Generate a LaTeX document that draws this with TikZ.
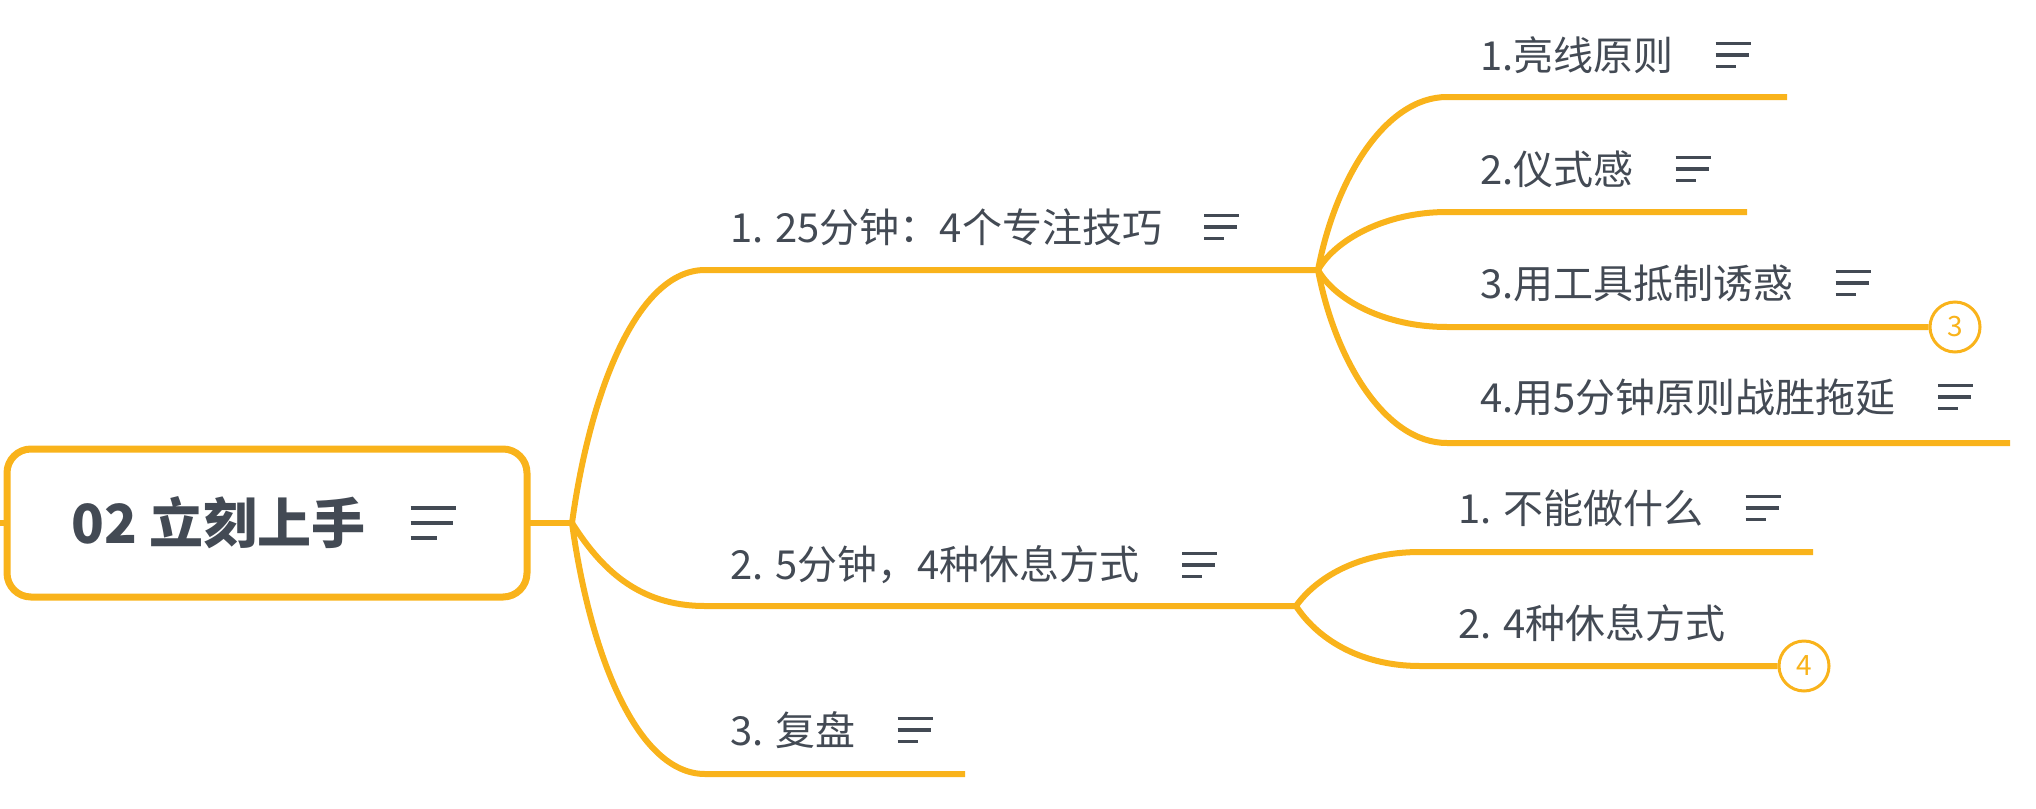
\documentclass[tikz,border=0pt]{standalone}
\usepackage{fontspec}
\setmainfont{Noto Sans CJK SC}
\usepackage{tikz}
\definecolor{branchyellow}{RGB}{249,179,27}
\definecolor{labelgray}{RGB}{67,74,84}

\begin{document}
\begin{tikzpicture}[x=1pt,y=-1pt,
  branchline/.style={draw=branchyellow,line width=6pt},
  itemtext/.style={anchor=west,inner sep=0pt,text=labelgray,font=\fontsize{40}{48}\selectfont},
  rootbox/.style={draw=branchyellow,line width=7pt,rounded corners=24pt,fill=white,minimum width=520pt,minimum height=148pt},
  numbadge/.style={circle,draw=branchyellow,line width=3pt,fill=white,minimum size=50pt,inner sep=0pt,text=branchyellow,font=\fontsize{28}{32}\selectfont},
  noteicon/.pic={\draw[labelgray,line width=3.5pt] (0,-11.5) -- (35,-11.5) (0,0) -- (33,0) (0,11.5) -- (20,11.5);}]
\useasboundingbox (0,0) rectangle (2036,808);

\coordinate (stub) at (0,523);
\coordinate (hub) at (572,523);
\coordinate (t1s) at (705,270);
\coordinate (t1e) at (1318,270);
\coordinate (t2s) at (705,606);
\coordinate (t2e) at (1296,606);
\coordinate (t3s) at (705,774);
\coordinate (t3e) at (965,774);
\coordinate (s1s) at (1447,97);
\coordinate (s1e) at (1787,97);
\coordinate (s2s) at (1447,212);
\coordinate (s2e) at (1747,212);
\coordinate (s3s) at (1447,327);
\coordinate (s4s) at (1447,443);
\coordinate (s4e) at (2010,443);
\coordinate (r1s) at (1420,552);
\coordinate (r1e) at (1813,552);
\coordinate (r2s) at (1420,666);

\draw[branchline] (stub) -- (hub);
\node[rootbox] (root) at (267,523) {};
\node[itemtext,font=\bfseries\fontsize{54}{64}\selectfont] (rootlabel) at (71,523) {02 立刻上手};
\pic[scale=1.3] at ([xshift=45pt]rootlabel.east) {noteicon};

\draw[branchline] (hub) .. controls +(18,-131) and +(-68,0) .. (t1s) -- (t1e);
\draw[branchline] (hub) .. controls +(28,44) and +(-68,0) .. (t2s) -- (t2e);
\draw[branchline] (hub) .. controls +(18,131) and +(-68,0) .. (t3s) -- (t3e);

\node[itemtext] (topic1) at (730,227) {1. 25分钟：4个专注技巧};
\pic at ([xshift=42pt]topic1.east) {noteicon};
\node[itemtext] (topic2) at (730,565) {2. 5分钟，4种休息方式};
\pic at ([xshift=42pt]topic2.east) {noteicon};
\node[itemtext] (topic3) at (730,730) {3. 复盘};
\pic at ([xshift=42pt]topic3.east) {noteicon};

\node[numbadge] (badge3) at (1955,327) {3};
\node[numbadge] (badge4) at (1804,666) {4};

\draw[branchline] (t1e) .. controls +(17,-90) and +(-62,0) .. (s1s) -- (s1e);
\draw[branchline] (t1e) .. controls +(17,-30) and +(-62,0) .. (s2s) -- (s2e);
\draw[branchline] (t1e) .. controls +(17,30) and +(-62,0) .. (s3s) -- (badge3.west);
\draw[branchline] (t1e) .. controls +(17,90) and +(-62,0) .. (s4s) -- (s4e);
\draw[branchline] (t2e) .. controls +(20,-28) and +(-62,0) .. (r1s) -- (r1e);
\draw[branchline] (t2e) .. controls +(20,31) and +(-62,0) .. (r2s) -- (badge4.west);

\node[itemtext] (sub1) at (1480,55) {1.亮线原则};
\pic at ([xshift=42pt]sub1.east) {noteicon};
\node[itemtext] (sub2) at (1480,169) {2.仪式感};
\pic at ([xshift=42pt]sub2.east) {noteicon};
\node[itemtext] (sub3) at (1480,283) {3.用工具抵制诱惑};
\pic at ([xshift=42pt]sub3.east) {noteicon};
\node[itemtext] (sub4) at (1480,397) {4.用5分钟原则战胜拖延};
\pic at ([xshift=42pt]sub4.east) {noteicon};
\node[itemtext] (rest1) at (1458,508) {1. 不能做什么};
\pic at ([xshift=42pt]rest1.east) {noteicon};
\node[itemtext] (rest2) at (1458,623) {2. 4种休息方式};
\end{tikzpicture}
\end{document}
